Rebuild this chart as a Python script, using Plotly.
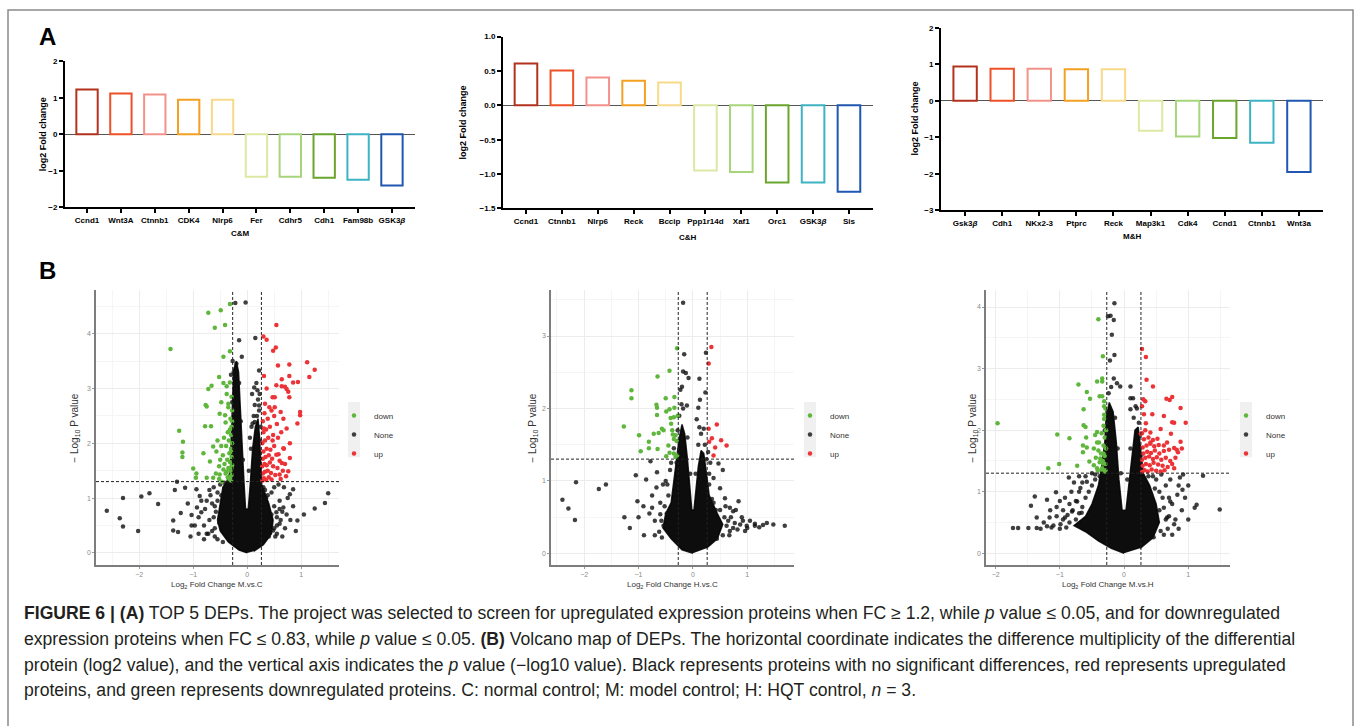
import plotly.graph_objects as go

W, H = 1356, 726
FONT = "Liberation Sans, Arial, sans-serif"

# ---------------- Panel A : top-5 DEPs (log2 fold change) ----------------
cm_genes = ["Ccnd1", "Wnt3A", "Ctnnb1", "CDK4", "Nlrp6", "Fer", "Cdhr5", "Cdh1", "Fam98b", "GSK3<i>β</i>"]
cm_values = [1.23, 1.12, 1.09, 0.95, 0.95, -1.16, -1.16, -1.19, -1.24, -1.40]

ch_genes = ["Ccnd1", "Ctnnb1", "Nlrp6", "Reck", "Bccip", "Ppp1r14d", "Xaf1", "Orc1", "GSK3<i>β</i>", "Sis"]
ch_values = [0.61, 0.505, 0.405, 0.357, 0.333, -0.948, -0.971, -1.124, -1.124, -1.257]

mh_genes = ["Gsk3<i>β</i>", "Cdh1", "NKx2-3", "Ptprc", "Reck", "Map3k1", "Cdk4", "Ccnd1", "Ctnnb1", "Wnt3a"]
mh_values = [0.94, 0.88, 0.88, 0.86, 0.86, -0.82, -0.98, -1.02, -1.15, -1.95]

bar_colors = ["#b3321d", "#ee5127", "#f3928b", "#f4a023", "#f7d98a",
              "#dbe9a3", "#a8d57c", "#6aa52c", "#3db3c3", "#1f57b1"]

# ---------------- Panel B : volcano plots ----------------
fc_up_thr = 0.263     # log2(1.2)
fc_down_thr = -0.269  # log2(0.83)
p_thr = 1.301         # -log10(0.05)

# M.vs.C
mc_down = [(-0.72, 4.38), (-0.49, 4.43), (-0.32, 4.54), (-0.60, 4.11), (-0.41, 4.16), (-1.42, 3.72),
           (-0.44, 3.58), (-0.32, 3.68), (-0.52, 3.21), (-0.66, 3.05), (-0.72, 2.99), (-0.44, 3.10),
           (-0.38, 3.04), (-0.32, 3.11), (-0.38, 2.90), (-0.48, 2.75), (-0.77, 2.70), (-0.75, 2.67),
           (-0.35, 2.66), (-0.51, 2.54), (-0.41, 2.51), (-0.67, 2.31), (-0.78, 2.31), (-1.26, 2.23),
           (-1.19, 2.03), (-1.20, 1.83), (-1.20, 1.75), (-1.00, 1.54), (-0.94, 1.45), (-0.95, 1.37),
           (-0.81, 1.82), (-0.63, 1.94), (-0.57, 1.85), (-0.69, 1.67), (-0.52, 1.58), (-0.75, 1.37),
           (-0.63, 1.37), (-0.51, 1.43), (-0.30, 1.32), (-0.33, 1.35), (-0.36, 1.38), (-0.29, 1.42),
           (-0.40, 1.45), (-0.31, 1.50), (-0.35, 1.55), (-0.28, 1.60), (-0.42, 1.62), (-0.32, 1.66),
           (-0.37, 1.70), (-0.29, 1.75), (-0.45, 1.78), (-0.33, 1.82), (-0.30, 1.90), (-0.39, 1.95),
           (-0.28, 2.00), (-0.34, 2.05), (-0.43, 2.10), (-0.30, 2.15), (-0.36, 2.20), (-0.29, 2.30),
           (-0.40, 2.38), (-0.31, 2.45), (-0.28, 2.60), (-0.35, 2.72), (-0.29, 2.85), (-0.31, 1.38),
           (-0.38, 1.48), (-0.44, 1.52), (-0.50, 1.70), (-0.48, 1.95), (-0.55, 2.05), (-0.52, 1.35),
           (-0.58, 1.45), (-0.47, 1.30), (-0.29, 1.55), (-0.30, 1.85), (-0.32, 2.25), (-0.28, 2.40)]
mc_up = [(0.54, 4.16), (0.30, 3.95), (0.36, 3.89), (0.53, 3.75), (0.48, 3.69), (0.78, 3.44),
         (0.57, 3.42), (1.11, 3.48), (1.25, 3.34), (1.15, 3.21), (0.94, 3.12), (0.85, 3.11),
         (0.78, 3.23), (0.64, 3.17), (0.54, 3.06), (0.64, 3.04), (0.70, 3.03), (0.76, 2.94),
         (0.31, 3.23), (0.36, 3.00), (0.47, 2.84), (0.51, 2.84), (0.78, 2.84), (0.73, 2.99),
         (0.33, 2.72), (0.41, 2.66), (0.51, 2.66), (0.62, 2.57), (0.98, 2.57), (0.98, 2.51),
         (0.93, 2.36), (0.67, 2.45), (0.31, 2.27), (0.48, 2.15), (0.73, 2.27), (0.79, 2.00),
         (0.67, 1.91), (0.54, 1.79), (0.79, 1.73), (0.64, 1.64), (0.76, 1.49), (0.60, 1.43),
         (0.28, 1.32), (0.31, 1.36), (0.35, 1.33), (0.40, 1.38), (0.45, 1.34), (0.29, 1.45),
         (0.33, 1.48), (0.38, 1.50), (0.44, 1.46), (0.52, 1.42), (0.28, 1.58), (0.32, 1.62),
         (0.36, 1.60), (0.42, 1.65), (0.48, 1.58), (0.56, 1.55), (0.29, 1.72), (0.34, 1.75),
         (0.40, 1.78), (0.46, 1.72), (0.60, 1.68), (0.30, 1.85), (0.36, 1.90), (0.43, 1.88),
         (0.50, 1.95), (0.28, 2.00), (0.33, 2.05), (0.39, 2.10), (0.47, 2.05), (0.57, 2.10),
         (0.30, 2.20), (0.35, 2.25), (0.42, 2.30), (0.55, 2.35), (0.29, 2.40), (0.38, 2.45),
         (0.50, 2.50), (0.32, 2.55), (0.45, 2.60), (0.62, 1.35), (0.66, 1.50), (0.70, 1.62),
         (0.68, 1.90), (0.63, 2.20), (0.72, 1.40), (0.58, 1.80)]
mc_none = [(-0.22, 4.56), (-0.03, 4.57), (0.15, 3.92), (-0.15, 3.88), (-0.10, 3.58), (0.22, 3.33),
           (0.13, 3.02), (0.09, 2.90), (0.19, 2.97), (0.23, 2.90), (0.22, 2.69), (0.14, 2.39),
           (0.10, 2.36), (-2.60, 0.77), (-2.30, 1.00), (-1.96, 1.03), (-1.81, 1.09), (-1.65, 0.89),
           (-2.36, 0.63), (-2.30, 0.48), (-2.02, 0.40), (-1.37, 0.41), (-1.28, 0.38), (-1.37, 0.59),
           (-1.34, 1.15), (-1.30, 1.30), (-1.23, 0.73), (-1.15, 1.19), (-1.03, 0.69), (-1.03, 0.50),
           (-0.97, 0.50), (-0.94, 1.16), (-0.88, 1.04), (-0.93, 0.83), (-0.85, 0.74), (-0.75, 0.35),
           (1.50, 1.09), (1.44, 0.91), (1.25, 0.81), (0.93, 0.59), (0.85, 1.16), (0.79, 1.07),
           (0.73, 0.70), (0.67, 0.83), (0.60, 0.53), (0.54, 0.74), (0.48, 0.41),
           (-0.60, 0.45), (-0.70, 0.60), (-0.65, 0.90), (-0.55, 1.10), (-0.80, 0.50), (-0.72, 0.35),
           (-0.60, 0.30), (-0.85, 0.95), (-0.50, 1.25), (-0.62, 1.20), (-0.58, 0.75), (-0.68, 1.05),
           (-0.90, 0.65), (-0.78, 0.80), (-0.52, 0.55), (0.55, 0.50), (0.60, 0.95), (0.50, 1.20),
           (0.65, 0.75), (0.58, 1.25), (0.70, 0.45), (0.52, 0.30), (0.62, 0.60), (0.45, 1.10),
           (0.75, 1.00), (0.68, 1.20), (-0.25, 3.30), (-0.20, 3.45), (-0.22, 3.00), (-0.18, 2.80),
           (-0.15, 3.10), (0.20, 2.80), (0.22, 2.60), (0.18, 2.50), (0.25, 2.30), (0.12, 2.50),
           (0.08, 2.30), (0.05, 2.10), (-0.26, 1.25), (-0.40, 1.15), (0.30, 1.20), (0.38, 1.05),
           (-0.45, 0.20), (-0.55, 0.25), (-0.65, 0.40), (-0.62, 0.65), (-0.60, 0.85), (-0.55, 0.95),
           (-0.48, 1.05), (-0.45, 0.60), (0.50, 0.45), (0.55, 0.35), (0.60, 0.80), (0.55, 0.65),
           (0.50, 0.85), (0.45, 0.70), (0.35, 1.00), (0.33, 1.15), (-0.35, 1.25), (-0.42, 1.28),
           (-0.27, 3.50), (-0.30, 3.25), (-0.28, 2.75), (-0.24, 2.30), (-0.22, 1.90), (-0.17, 1.60),
           (-0.12, 2.40), (-0.08, 1.70), (0.03, 1.50), (0.07, 1.90), (0.14, 2.70), (0.17, 3.10),
           (0.24, 2.05), (0.21, 1.75), (0.25, 1.45), (0.35, 0.85), (-0.80, 0.25), (-0.90, 0.35),
           (-0.70, 1.15), (-0.75, 0.95), (0.80, 0.60), (0.85, 0.85), (0.90, 0.40), (-1.10, 0.90),
           (-1.05, 0.30), (1.05, 0.70), (0.65, 0.30), (-0.40, 0.40), (0.40, 0.30)]
mc_core = [(0.00, 0.00), (-0.15, 0.05), (-0.35, 0.20), (-0.50, 0.40), (-0.55, 0.60), (-0.50, 0.90),
           (-0.45, 1.20), (-0.38, 1.30), (-0.31, 1.50), (-0.30, 2.00), (-0.28, 2.50), (-0.27, 3.00),
           (-0.25, 3.35), (-0.20, 3.50), (-0.16, 3.30), (-0.13, 2.70), (-0.10, 2.00), (-0.06, 1.30),
           (-0.03, 0.80), (0.02, 0.80), (0.06, 1.30), (0.10, 1.90), (0.15, 2.30), (0.20, 2.45),
           (0.23, 2.10), (0.25, 1.60), (0.27, 1.25), (0.40, 0.90), (0.48, 0.60), (0.45, 0.35),
           (0.30, 0.15), (0.12, 0.03)]

# H.vs.C
hc_down = [(-0.29, 2.83), (-0.43, 2.52), (-0.65, 2.44), (-1.13, 2.25), (-1.13, 2.14), (-0.50, 2.14),
           (-0.34, 2.16), (-0.67, 2.05), (-0.66, 2.01), (-0.34, 2.01), (-0.43, 1.99), (-0.66, 1.91),
           (-0.49, 1.96), (-0.28, 1.90), (-0.41, 1.87), (-0.35, 1.88), (-0.40, 1.79), (-1.27, 1.75),
           (-0.57, 1.72), (-0.38, 1.70), (-0.54, 1.70), (-0.72, 1.65), (-0.99, 1.63), (-0.63, 1.66),
           (-0.37, 1.64), (-0.32, 1.63), (-0.35, 1.58), (-0.81, 1.54), (-0.30, 1.55), (-0.81, 1.45),
           (-0.45, 1.49), (-0.96, 1.41), (-0.65, 1.44), (-0.43, 1.39), (-0.49, 1.34), (-0.35, 1.38),
           (-0.32, 1.33), (-0.29, 1.35)]
hc_up = [(0.34, 2.85), (0.29, 2.62), (0.44, 1.78), (0.29, 1.72), (0.35, 1.59), (0.52, 1.56),
         (0.30, 1.54), (0.62, 1.49), (0.41, 1.46), (0.38, 1.35)]
hc_none = [(-0.18, 3.46), (-0.16, 2.75), (0.24, 2.77), (-0.18, 2.51), (-0.13, 2.49), (-0.08, 2.42),
           (0.12, 2.41), (-0.20, 2.30), (-0.23, 2.26), (0.23, 2.22), (0.13, 2.12), (-0.11, 2.04),
           (0.10, 2.01), (-0.21, 2.06), (0.07, 1.85), (0.12, 1.74), (0.20, 1.72), (-2.40, 0.74),
           (-2.29, 0.62), (-2.17, 0.46), (-2.15, 0.98), (-1.73, 0.89), (-1.60, 0.95), (-1.26, 0.50),
           (-1.16, 0.35), (-1.05, 1.08), (-1.02, 0.72), (-0.91, 0.65), (-0.90, 0.25), (-0.86, 1.02),
           (-0.78, 1.27), (-0.75, 0.63), (-0.67, 0.91), (-0.66, 1.12), (-0.60, 0.54), (-0.54, 0.38),
           (-0.57, 0.22), (1.69, 0.38), (1.48, 0.40), (1.29, 0.39), (1.14, 0.38), (0.99, 0.38),
           (1.14, 0.41), (0.87, 0.40), (0.77, 0.42), (0.74, 0.35), (0.68, 0.31), (0.62, 0.38),
           (0.74, 0.58), (0.68, 0.63), (0.59, 0.76), (0.55, 1.15), (0.47, 1.24), (0.38, 1.04),
           (0.50, 0.90), (0.84, 0.72), (0.79, 0.60), (0.96, 0.31), (0.67, 0.25), (0.44, 0.20),
           (1.05, 0.45), (1.22, 0.36), (1.36, 0.42), (0.92, 0.45), (0.82, 0.33), (-0.45, 0.80),
           (-0.50, 1.00), (-0.42, 1.15), (-0.30, 1.25), (0.30, 1.10), (0.35, 0.75), (0.42, 0.60),
           (-0.60, 0.70), (-0.70, 0.45), (-0.48, 0.55),
           (-0.62, 0.30), (-0.58, 0.45), (-0.52, 0.65), (-0.47, 0.95), (-0.40, 1.25), (-0.35, 1.45),
           (-0.28, 1.70), (-0.25, 1.90), (-0.18, 2.00), (-0.10, 1.60), (-0.05, 1.10), (0.05, 1.10),
           (0.10, 1.50), (0.15, 1.65), (0.22, 1.50), (0.25, 1.30), (0.30, 0.95), (0.38, 0.70),
           (0.50, 0.60), (0.58, 0.50), (0.65, 0.45), (0.55, 0.25), (0.45, 0.35), (0.32, 1.25),
           (0.28, 1.40), (-0.70, 0.25), (-0.80, 0.55), (-0.75, 0.80), (-0.55, 0.95), (-1.00, 0.50),
           (0.90, 0.50), (1.00, 0.35), (0.70, 0.50), (0.60, 0.65)]
hc_core = [(0.00, 0.00), (-0.20, 0.05), (-0.40, 0.20), (-0.55, 0.35), (-0.50, 0.55), (-0.40, 0.70),
           (-0.35, 1.00), (-0.30, 1.30), (-0.25, 1.60), (-0.20, 1.78), (-0.15, 1.65), (-0.10, 1.30),
           (-0.06, 0.90), (-0.02, 0.60), (0.02, 0.60), (0.06, 0.90), (0.10, 1.20), (0.15, 1.42),
           (0.20, 1.38), (0.25, 1.10), (0.30, 0.80), (0.45, 0.55), (0.55, 0.40), (0.45, 0.20),
           (0.25, 0.07)]

# M.vs.H
mh_down = [(-1.97, 2.11), (-1.04, 1.93), (-1.01, 1.45), (-0.85, 1.87), (-1.18, 1.38), (-0.71, 2.74),
           (-0.58, 2.62), (-0.53, 2.51), (-0.63, 2.34), (-0.63, 2.08), (-0.60, 2.05), (-0.42, 2.79),
           (-0.34, 2.84), (-0.34, 2.79), (-0.40, 3.80), (-0.33, 3.20), (-0.38, 2.55), (-0.34, 2.55),
           (-0.31, 2.47), (-0.31, 2.39), (-0.59, 1.88), (-0.64, 1.75), (-0.42, 1.97), (-0.45, 1.92),
           (-0.42, 1.80), (-0.58, 1.72), (-0.64, 1.64), (-0.47, 1.70), (-0.40, 1.67), (-0.54, 1.49),
           (-0.73, 1.42), (-0.47, 1.43), (-0.37, 1.54), (-0.32, 1.62), (-0.33, 1.46), (-0.42, 1.38),
           (-0.34, 1.38), (-0.29, 1.35), (-0.32, 2.07), (-0.31, 2.18), (-0.30, 1.33), (-0.35, 1.36),
           (-0.41, 1.34), (-0.29, 1.45), (-0.33, 1.50), (-0.38, 1.48), (-0.44, 1.55), (-0.30, 1.58),
           (-0.36, 1.62), (-0.28, 1.70), (-0.32, 1.75), (-0.39, 1.80), (-0.30, 1.88), (-0.35, 1.95),
           (-0.28, 2.00), (-0.31, 2.25), (-0.29, 2.35)]
mh_up = [(0.28, 3.32), (0.34, 3.19), (0.35, 2.82), (0.45, 2.71), (0.30, 2.50), (0.33, 2.47),
         (0.66, 2.51), (0.71, 2.49), (0.75, 2.54), (0.88, 2.36), (0.28, 2.39), (0.31, 2.26),
         (0.44, 2.26), (0.62, 2.23), (0.75, 2.13), (0.78, 2.12), (0.96, 2.12), (0.34, 2.11),
         (0.41, 1.96), (0.26, 1.94), (0.57, 2.02), (0.73, 1.94), (0.88, 1.81), (0.90, 1.70),
         (0.84, 1.64), (0.78, 1.71), (0.67, 1.80), (0.52, 1.86), (0.62, 1.75), (0.41, 1.80),
         (0.28, 1.32), (0.32, 1.35), (0.37, 1.33), (0.43, 1.36), (0.50, 1.34), (0.57, 1.33),
         (0.63, 1.35), (0.29, 1.42), (0.34, 1.45), (0.40, 1.43), (0.46, 1.47), (0.53, 1.44),
         (0.60, 1.42), (0.68, 1.40), (0.28, 1.52), (0.33, 1.55), (0.39, 1.57), (0.45, 1.53),
         (0.51, 1.56), (0.58, 1.52), (0.65, 1.55), (0.72, 1.50), (0.30, 1.62), (0.36, 1.65),
         (0.42, 1.63), (0.48, 1.67), (0.55, 1.62), (0.62, 1.66), (0.29, 1.72), (0.35, 1.75),
         (0.41, 1.78), (0.47, 1.74), (0.54, 1.76), (0.31, 1.85), (0.38, 1.88), (0.45, 1.84),
         (0.28, 1.95), (0.33, 2.00), (0.80, 1.55), (0.75, 1.45), (0.70, 1.68), (0.82, 1.68),
         (0.78, 1.38)]
mh_none = [(-0.15, 4.06), (-0.25, 3.85), (-0.21, 3.86), (-0.16, 3.79), (-0.19, 3.55), (-0.15, 3.22),
           (-0.22, 3.13), (-0.16, 2.84), (-0.11, 2.76), (-0.06, 2.71), (0.10, 2.71), (0.10, 2.52),
           (0.14, 2.52), (0.18, 2.39), (0.10, 2.34), (0.23, 2.12), (-1.73, 0.41), (-1.65, 0.41),
           (-1.49, 0.41), (-1.45, 0.77), (-1.39, 0.92), (-1.36, 0.58), (-1.20, 0.87), (-1.16, 0.58),
           (-1.06, 0.99), (-1.05, 0.75), (-0.92, 0.90), (-0.86, 1.23), (-1.36, 0.41), (-1.20, 0.44),
           (-1.13, 0.42), (-0.99, 0.47), (-0.92, 0.58), (-0.81, 0.68), (-0.73, 0.84), (-0.68, 1.06),
           (-0.66, 0.66), (-0.58, 1.16), (1.49, 0.71), (1.13, 0.79), (1.10, 0.74), (1.23, 1.26),
           (0.87, 1.23), (0.91, 1.03), (0.78, 0.47), (0.67, 0.58), (0.83, 0.95), (0.72, 0.84),
           (0.62, 0.74), (0.57, 0.36), (0.46, 0.26), (-0.75, 0.55), (-0.70, 0.65), (-0.65, 0.75),
           (-0.60, 0.90), (-0.55, 1.00), (-0.50, 1.10), (-0.45, 1.20), (-0.85, 0.50), (-0.90, 0.42),
           (-1.00, 0.40), (-0.95, 0.55), (-0.80, 0.70), (-0.75, 0.85), (-0.70, 1.00), (-0.65, 1.15),
           (-0.60, 1.25), (-0.50, 1.30), (-1.10, 0.45), (-1.05, 0.60), (-0.88, 0.62), (-0.62, 0.50),
           (-0.55, 0.60), (-0.72, 0.45), (0.45, 0.50), (0.55, 0.70), (0.60, 0.90), (0.65, 1.10),
           (0.70, 0.60), (0.75, 0.80), (0.50, 1.20), (0.58, 1.28), (0.80, 0.55), (0.68, 0.40),
           (0.42, 0.95), (0.48, 1.05), (0.72, 1.20), (0.85, 1.10), (0.62, 0.30),
           (-0.30, 2.00), (-0.26, 2.30), (-0.24, 2.60), (-0.20, 2.70), (-0.14, 2.20), (-0.10, 1.70),
           (-0.05, 1.30), (0.05, 1.20), (0.10, 1.70), (0.15, 2.20), (0.20, 2.35), (0.24, 1.90),
           (0.27, 1.60), (0.32, 1.20), (0.38, 1.25), (-0.45, 1.28), (-0.38, 1.25), (-0.85, 0.80),
           (-0.95, 0.70), (-1.00, 0.85), (-1.15, 0.70), (-1.25, 0.50), (-1.30, 0.40), (-0.82, 1.00),
           (-0.78, 1.15), (-0.70, 1.25), (0.95, 0.90), (0.90, 0.70), (1.00, 0.55), (0.85, 0.40),
           (0.75, 0.30), (0.70, 0.90), (0.65, 0.55), (0.55, 1.00), (0.45, 1.25), (0.92, 1.28),
           (1.00, 1.10)]
mh_core = [(0.00, 0.00), (-0.20, 0.08), (-0.40, 0.20), (-0.60, 0.35), (-0.78, 0.45), (-0.60, 0.60),
           (-0.50, 0.80), (-0.40, 1.10), (-0.35, 1.40), (-0.30, 1.80), (-0.28, 2.20), (-0.23, 2.45),
           (-0.17, 2.30), (-0.12, 1.80), (-0.08, 1.20), (-0.03, 0.70), (0.03, 0.70), (0.08, 1.20),
           (0.12, 1.60), (0.17, 2.00), (0.22, 2.05), (0.26, 1.70), (0.30, 1.30), (0.40, 1.10),
           (0.50, 0.80), (0.55, 0.50), (0.45, 0.25), (0.25, 0.08)]

volcano_titles = ["M.vs.C", "H.vs.C", "M.vs.H"]

# ---------------- helpers ----------------
def xdom(l, r):
    return [l / W, r / W]

def ydom(t, b):
    return [1 - b / H, 1 - t / H]

def px(x):
    return x / W

def py(y):
    return 1 - y / H

def xs(pts):
    return [p[0] for p in pts]

def ys(pts):
    return [p[1] for p in pts]

fig = go.Figure()

# ---------------- bar charts ----------------
bar_sets = [(cm_genes, cm_values), (ch_genes, ch_values), (mh_genes, mh_values)]
for i, (g, v) in enumerate(bar_sets):
    ax = "" if i == 0 else str(i + 1)
    fig.add_trace(go.Bar(
        x=g, y=v, width=0.63,
        marker=dict(color="rgba(0,0,0,0)", line=dict(color=bar_colors, width=2)),
        xaxis="x" + ax, yaxis="y" + ax, showlegend=False, hoverinfo="x+y"))

# ---------------- volcano plots ----------------
GREEN = "#5fb63c"
RED = "#ec3337"
volc = [(mc_core, mc_none, mc_down, mc_up), (hc_core, hc_none, hc_down, hc_up), (mh_core, mh_none, mh_down, mh_up)]
for i, (core, none, down, up) in enumerate(volc):
    ax = str(i + 4)
    lg = "legend" if i == 0 else "legend%d" % (i + 1)
    fig.add_trace(go.Scatter(x=xs(core), y=ys(core), mode="lines", fill="toself",
                             fillcolor="rgba(0,0,0,0.95)", line=dict(color="rgba(0,0,0,0.85)", width=1.5),
                             xaxis="x" + ax, yaxis="y" + ax, showlegend=False, hoverinfo="skip"))
    fig.add_trace(go.Scatter(x=xs(none), y=ys(none), mode="markers", name="None",
                             marker=dict(color="rgba(15,15,15,0.8)", size=4.5),
                             xaxis="x" + ax, yaxis="y" + ax, legend=lg, legendrank=2))
    fig.add_trace(go.Scatter(x=xs(down), y=ys(down), mode="markers", name="down",
                             marker=dict(color=GREEN, size=4.5),
                             xaxis="x" + ax, yaxis="y" + ax, legend=lg, legendrank=1))
    fig.add_trace(go.Scatter(x=xs(up), y=ys(up), mode="markers", name="up",
                             marker=dict(color=RED, size=4.5),
                             xaxis="x" + ax, yaxis="y" + ax, legend=lg, legendrank=3))

# ---------------- axes ----------------
bold8 = dict(family=FONT, size=8, color="black", weight="bold")
bar_x = dict(type="category", showline=True, linecolor="black", linewidth=2, ticks="outside",
             ticklen=4, tickwidth=1.5, tickcolor="black", tickfont=bold8, showgrid=False,
             zeroline=False, tickangle=0, fixedrange=True)
bar_y = dict(showline=True, linecolor="black", linewidth=2, ticks="outside", ticklen=4,
             tickwidth=1.5, tickcolor="black", tickfont=bold8, showgrid=False,
             zeroline=True, zerolinecolor="#555", zerolinewidth=1, fixedrange=True)

bar_geo = [  # (left, right, top, bottom) in px, x range, y range, y dtick, tick format
    ((65, 415, 58, 206), [-0.65, 9.68], [-2, 2], 1, ""),
    ((503, 873, 33, 207), [-0.64, 9.67], [-1.5, 1.0], 0.5, ".1f"),
    ((941, 1323, 24, 209), [-0.65, 9.65], [-3, 2], 1, ""),
]
for i, ((l, r, t, b), xr, yr, dt, tf) in enumerate(bar_geo):
    n = "" if i == 0 else str(i + 1)
    fig.update_layout(**{
        "xaxis" + n: dict(bar_x, domain=xdom(l, r), range=xr, anchor="y" + n),
        "yaxis" + n: dict(bar_y, domain=ydom(t, b), range=yr, dtick=dt, tick0=0,
                          tickformat=tf, anchor="x" + n),
    })

grey7 = dict(family=FONT, size=7, color="#8a8a8a")
v_ax = dict(showline=True, linecolor="#7d7d7d", linewidth=1.5, ticks="outside", ticklen=2,
            tickwidth=1, tickcolor="#9a9a9a", tickfont=grey7, dtick=1, tick0=0,
            showgrid=True, gridcolor="#ececec", gridwidth=1,
            minor=dict(dtick=0.5, tick0=0, showgrid=True, gridcolor="#f5f5f5", gridwidth=1),
            zeroline=False, fixedrange=True)
volc_geo = [
    ((96, 339), [-2.8, 1.70], [-0.22, 4.79]),
    ((551, 794), [-2.61, 1.86], [-0.16, 3.63]),
    ((986, 1230), [-2.15, 1.65], [-0.19, 4.27]),
]
for i, ((l, r), xr, yr) in enumerate(volc_geo):
    n = str(i + 4)
    fig.update_layout(**{
        "xaxis" + n: dict(v_ax, domain=xdom(l, r), range=xr, anchor="y" + n),
        "yaxis" + n: dict(v_ax, domain=ydom(290, 568), range=yr, anchor="x" + n),
    })

# threshold lines
shapes = []
for i in range(3):
    n = str(i + 4)
    for xv in (fc_down_thr, fc_up_thr):
        shapes.append(dict(type="line", xref="x" + n, yref="y%s domain" % n, x0=xv, x1=xv, y0=0, y1=1,
                           line=dict(color="#222", width=1, dash="3px,2px")))
    shapes.append(dict(type="line", xref="x%s domain" % n, yref="y" + n, x0=0, x1=1, y0=p_thr, y1=p_thr,
                       line=dict(color="#222", width=1, dash="3px,2px")))

# legend key backgrounds (light grey boxes behind the legend symbols)
for kx in (354, 810, 1246):
    shapes.append(dict(type="rect", xref="paper", yref="paper", x0=px(kx - 6), x1=px(kx + 6),
                       y0=py(459), y1=py(403), line=dict(width=0), fillcolor="#f0f0f0", layer="below"))

# figure frame
shapes.append(dict(type="rect", xref="paper", yref="paper", x0=px(8), x1=px(1353), y0=-0.02, y1=py(6),
                   line=dict(color="#8a8a8a", width=1.5), fillcolor="rgba(0,0,0,0)", layer="below"))

# ---------------- annotations ----------------
ann = []
ann.append(dict(text="<b>A</b>", x=px(37), y=py(33), xanchor="left", yanchor="middle",
                font=dict(family=FONT, size=24, color="black")))
ann.append(dict(text="<b>B</b>", x=px(37), y=py(270), xanchor="left", yanchor="middle",
                font=dict(family=FONT, size=24, color="black")))

bar_titles = [("C&M", 240, 232, 43, 132), ("C&H", 688, 236, 463, 120), ("M&H", 1132, 235, 915, 116)]
for t, cx, cy, yx, yy in bar_titles:
    ann.append(dict(text=t, x=px(cx), y=py(cy), xanchor="center", yanchor="middle", font=bold8))
    ann.append(dict(text="log2 Fold change", x=px(yx), y=py(yy), xanchor="center", yanchor="middle",
                    textangle=-90, font=dict(family=FONT, size=9, color="black", weight="bold")))

volc_title_pos = [(217, 75), (672, 533), (1108, 973)]
for (cx, yx), name in zip(volc_title_pos, volcano_titles):
    ann.append(dict(text="Log<sub>2</sub> Fold Change " + name, x=px(cx), y=py(588), xanchor="center",
                    yanchor="middle", font=dict(family=FONT, size=8, color="#333")))
    ann.append(dict(text="− Log<sub>10</sub> P value", x=px(yx), y=py(429), xanchor="center",
                    yanchor="middle", textangle=-90, font=dict(family=FONT, size=10, color="#333")))

caption = [
    "<b>FIGURE 6 | (A)</b> TOP 5 DEPs. The project was selected to screen for upregulated expression proteins when FC ≥ 1.2, while <i>p</i> value ≤ 0.05, and for downregulated",
    "expression proteins when FC ≤ 0.83, while <i>p</i> value ≤ 0.05. <b>(B)</b> Volcano map of DEPs. The horizontal coordinate indicates the difference multiplicity of the differential",
    "protein (log2 value), and the vertical axis indicates the <i>p</i> value (−log10 value). Black represents proteins with no significant differences, red represents upregulated",
    "proteins, and green represents downregulated proteins. C: normal control; M: model control; H: HQT control, <i>n</i> = 3.",
]
for k, line in enumerate(caption):
    ann.append(dict(text=line, x=px(22), y=py(617 + 26 * k), xanchor="left", yanchor="middle",
                    font=dict(family=FONT, size=17.6, color="#231f20")))

for a in ann:
    a.update(xref="paper", yref="paper", showarrow=False)

leg = dict(xanchor="left", yanchor="top", font=dict(family=FONT, size=8, color="#333"),
           bgcolor="rgba(0,0,0,0)", itemwidth=30, tracegroupgap=0, traceorder="normal")
fig.update_layout(
    width=W, height=H, margin=dict(l=0, r=0, t=0, b=0),
    paper_bgcolor="white", plot_bgcolor="white",
    font=dict(family=FONT),
    shapes=shapes, annotations=ann,
    legend=dict(leg, x=px(334), y=py(402)),
    legend2=dict(leg, x=px(790), y=py(402)),
    legend3=dict(leg, x=px(1226), y=py(402)),
    bargap=0.37,
)

fig.write_html("out.html", post_script="document.body.style.margin='0';",
               config={"displayModeBar": False})
